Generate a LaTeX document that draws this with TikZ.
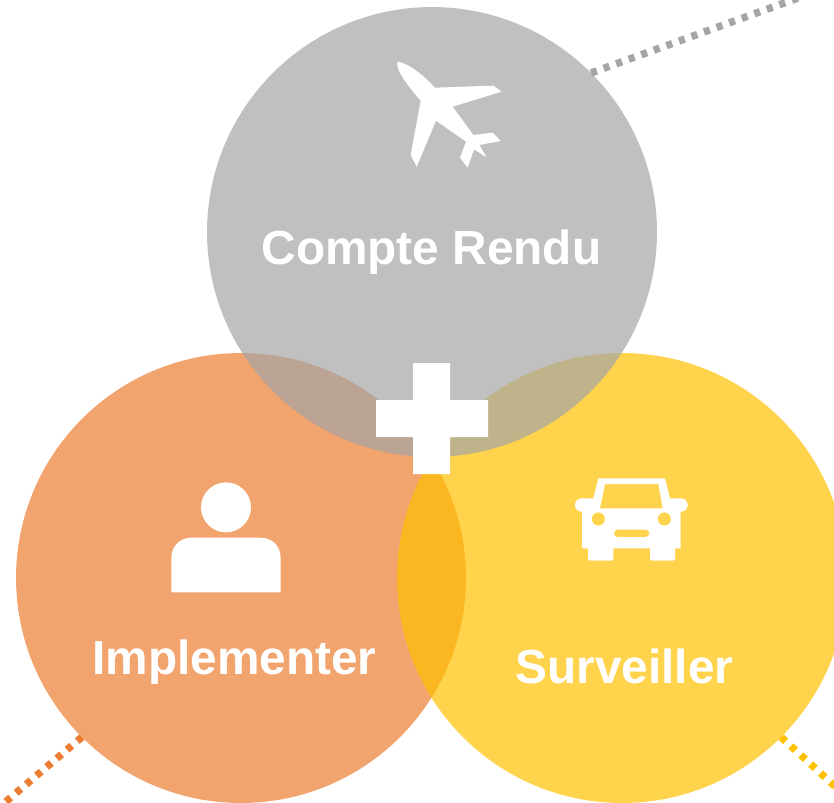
\documentclass[tikz,border=0pt]{standalone}
\usepackage{xcolor}
\usepackage{fontspec}
\setmainfont{Liberation Sans}
\usetikzlibrary{backgrounds}
\definecolor{graycolor}{RGB}{165, 165, 165}
\definecolor{orangecolor}{RGB}{237, 125, 49}
\definecolor{yellowcolor}{RGB}{255, 192, 0}
\tikzstyle{bubble} = [circle, minimum size=9cm, inner sep=0pt, outer sep=0pt, fill opacity=0.7]
\tikzstyle{title} = [text=white, font=\fontsize{27.2}{32}\selectfont\bfseries, inner sep=0pt]
\tikzstyle{dotline} = [line width=4.2pt, dash pattern=on 3.5pt off 4.1pt]
\tikzstyle{icon} = [fill=white, even odd rule]

\begin{document}
\begin{tikzpicture}[x=0.02cm, y=-0.02cm]
\useasboundingbox (0,0) rectangle (834,802);

% Cercles
\node (impl) [bubble, fill=orangecolor] at (241,578) {};
\node (surv) [bubble, fill=yellowcolor] at (622,578) {};
\node (compte) [bubble, fill=graycolor] at (432,232) {};
\begin{scope}[on background layer]
\coordinate (compteend) at (820,-10);
\coordinate (implend) at (-10,815);
\coordinate (survend) at (850,800);
\draw [dotline, draw=graycolor] (compte.45) -- (compteend);
\draw [dotline, draw=orangecolor] (impl.225) -- (implend);
\draw [dotline, draw=yellowcolor] (surv.-45) -- (survend);
\end{scope}

% Textes
\node (comptetxt) [title] at (431.5,252) {Compte Rendu};
\node (impltxt) [title] at (234.5,662) {Implementer};
\node (survtxt) [title] at (624.5,666) {Surveiller};

% Plus
\fill [white] (413,363) -- (450,363) -- (450,400) -- (488,400) -- (488,437) -- (450,437)
  -- (450,474) -- (413,474) -- (413,437) -- (376,437) -- (376,400) -- (413,400) -- cycle;

% Avion
\begin{scope}[shift={(380,50)}, x=0.00667cm, y=-0.00667cm]
\fill [icon] (52,35) .. controls (85,38) and (135,80) .. (165,113) -- (340,107) -- (365,125)
  -- (218,170) -- (280,255) -- (338,248) -- (362,273) -- (298,285) -- (320,322) -- (282,298)
  -- (263,353) -- (240,323) -- (258,275) -- (168,212) -- (110,350) -- (92,315) -- (122,152)
  .. controls (90,115) and (45,60) .. (52,35) -- cycle;
\end{scope}

% Personne
\begin{scope}[shift={(160,470)}, x=0.00667cm, y=-0.00667cm]
\fill [icon] (198,112) circle [radius=0.5cm];
\fill [icon] (34,367) -- (34,265) .. controls (34,228) and (60,203) .. (95,203) -- (300,203)
  .. controls (337,203) and (362,228) .. (362,265) -- (362,367) -- cycle;
\end{scope}

% Voiture
\begin{scope}[shift={(560,465)}, x=0.00667cm, y=-0.00667cm]
\fill [icon] (115,40) -- (315,40) -- (330,100) -- (362,100)
  .. controls (374,100) and (383,108) .. (383,120) .. controls (383,132) and (374,140) .. (362,140)
  -- (362,250) -- (345,250) -- (345,280) .. controls (345,285) and (342,287) .. (338,287)
  -- (277,287) .. controls (273,287) and (270,285) .. (270,280) -- (270,250) -- (160,250) -- (160,280)
  .. controls (160,285) and (157,287) .. (153,287) -- (91,287) .. controls (87,287) and (84,285) .. (84,280)
  -- (84,250) -- (66,250) -- (66,140) .. controls (54,140) and (45,132) .. (45,120)
  .. controls (45,108) and (54,100) .. (66,100) -- (100,100) -- cycle
  (135,57) -- (295,57) -- (308,130) -- (120,130) -- cycle
  (115,162) circle [radius=0.133cm]
  (313,162) circle [radius=0.133cm]
  (173,194) -- (257,194) .. controls (264,194) and (268,199) .. (268,205)
  .. controls (268,211) and (264,216) .. (257,216) -- (173,216)
  .. controls (166,216) and (162,211) .. (162,205) .. controls (162,199) and (166,194) .. (173,194) -- cycle;
\end{scope}

\end{tikzpicture}
\end{document}
